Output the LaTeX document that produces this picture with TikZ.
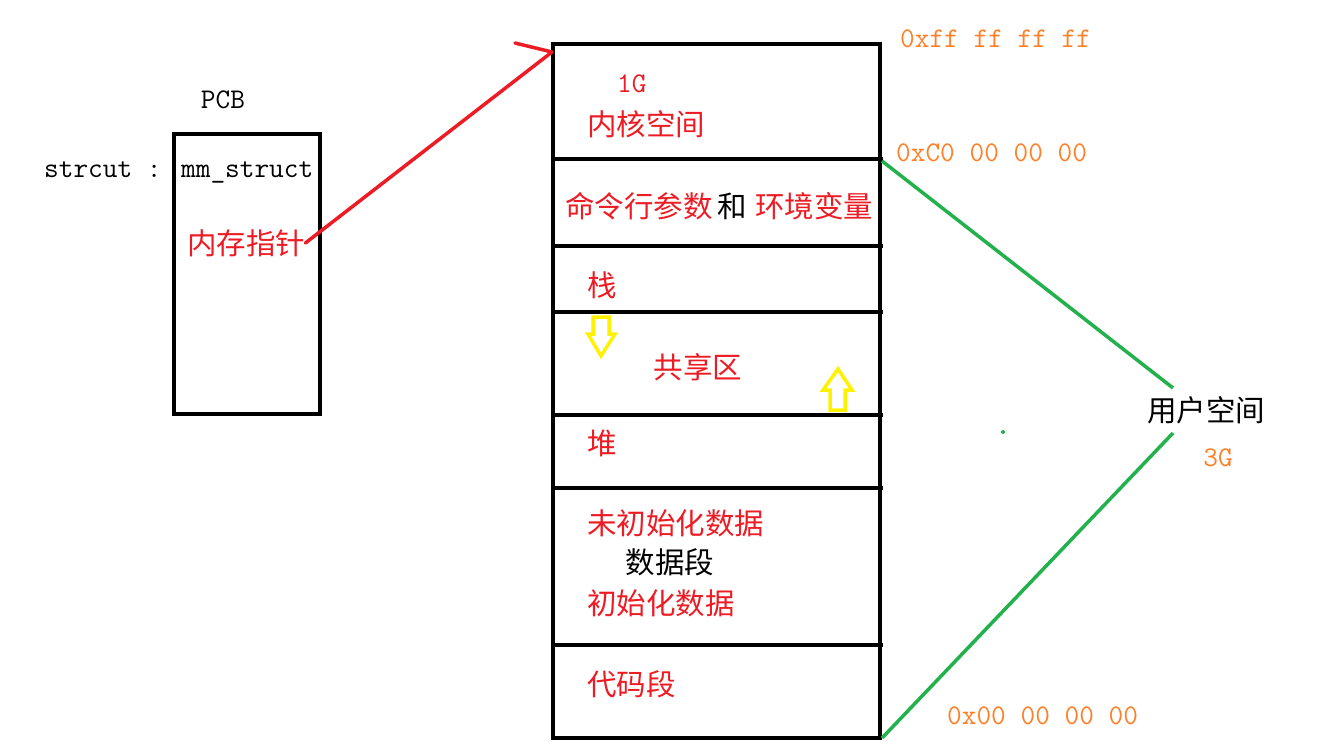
\documentclass[tikz,border=0pt]{standalone}
\usepackage{fontspec}
\setmainfont{Liberation Serif}
\newfontfamily\cjk{Noto Sans CJK SC}

\begin{document}
\begin{tikzpicture}[x=1pt, y=-1pt,
    cn/.style={font=\cjk\fontsize{29.5}{31}\selectfont, inner sep=0pt},
    lat/.style={font=\ttfamily\fontsize{28.5}{30}\selectfont, inner sep=0pt},
    thickline/.style={line width=3.5pt},
    hollowarrow/.style={draw=arrowYellow, line width=3.5pt, line join=miter}]
    \definecolor{penRed}{HTML}{ED1C24}
    \definecolor{penGreen}{HTML}{22B14C}
    \definecolor{addrOrange}{HTML}{FF7F27}
    \definecolor{arrowYellow}{HTML}{FFF200}

    \def\memLeft{553}
    \def\memRight{880}

    \useasboundingbox (0,0) rectangle (1317,748);

    % PCB box
    \node[lat] (pcb) at (223,100) {PCB};
    \draw[thickline] (174,134) rectangle (320,414);
    \node[lat, anchor=west] (mm) at (44,172) {strcut : mm\_struct};
    \node[cn, anchor=west, text=penRed] (ptr) at (187,243) {内存指针};

    % Memory layout box
    \draw[thickline] (\memLeft,44) rectangle (\memRight,738);
    \foreach \y in {159,246,312,415,488,645}
        \draw[thickline] (\memLeft,\y) -- (\memRight+3,\y);

    % Segment labels
    \node[lat, anchor=west, text=penRed] (oneG) at (617,84) {1G};
    \node[cn, anchor=west, text=penRed] (kernel) at (587,124) {内核空间};
    \node[cn, anchor=west] (args) at (565,206)
        {{\color{penRed}命令行参数}\hspace{5pt}和\hspace{8pt}{\color{penRed}环境变量}};
    \node[cn, anchor=west, text=penRed] (stack) at (587,285) {栈};
    \node[cn, text=penRed] (shared) at (698,367) {共享区};
    \node[cn, anchor=west, text=penRed] (heap) at (587,443) {堆};
    \node[cn, anchor=west, text=penRed] (bss) at (587,523) {未初始化数据};
    \node[cn] (data) at (670,562) {数据段};
    \node[cn, anchor=west, text=penRed] (init) at (587,603) {初始化数据};
    \node[cn, anchor=west, text=penRed] (text) at (587,684) {代码段};

    % Growth arrows
    \draw[hollowarrow] (593,317) -- (609,317) -- (609,334) -- (615,334) -- (601,356)
        -- (588,334) -- (593,334) -- cycle;
    \draw[hollowarrow] (830,410) -- (845,410) -- (845,390) -- (852,390) -- (838,369)
        -- (823,390) -- (830,390) -- cycle;

    % Addresses
    \node[lat, anchor=west, text=addrOrange] (addrTop) at (900,39) {0xff ff ff ff};
    \node[lat, anchor=west, text=addrOrange] (addrKernel) at (896,153) {0xC0 00 00 00};
    \node[lat, anchor=west, text=addrOrange] (addrBottom) at (947,716) {0x00 00 00 00};

    % User space
    \node[cn] (user) at (1206,410) {用户空间};
    \node[lat, text=addrOrange] (threeG) at (1218,458) {3G};
    \coordinate (userTop) at (1173,388);
    \coordinate (userBot) at (1173,433);
    \coordinate (kernelLow) at (\memRight+2,161);
    \coordinate (memLow) at (\memRight+2,738);
    \draw[penGreen, line width=3.5pt] (kernelLow) -- (userTop);
    \draw[penGreen, line width=3.5pt] (userBot) -- (memLow);
    \fill[penGreen] (1003,432) circle (2pt);

    % Pointer to memory
    \coordinate (memTip) at (552,52);
    \coordinate (barb) at (515,43);
    \draw[penRed, line width=3.5pt, line cap=round] (ptr.east) -- (memTip);
    \draw[penRed, line width=3.5pt, line cap=round] (barb) -- (memTip);

\end{tikzpicture}
\end{document}
